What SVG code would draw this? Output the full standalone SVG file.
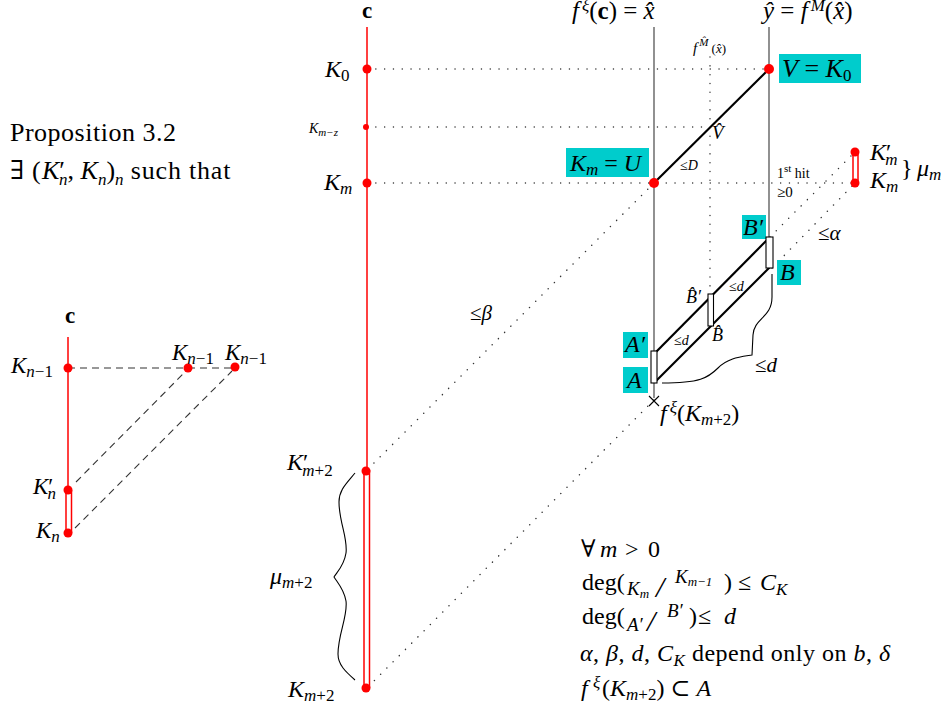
<svg xmlns="http://www.w3.org/2000/svg" width="947" height="710" viewBox="0 0 947 710">
<style>
text{font-family:"Liberation Serif","DejaVu Serif",serif;fill:#000}
.m{font-size:24px;font-style:italic}
.r{font-size:24px}
.sm{font-size:14px;font-style:italic}
.s{font-size:17px;font-style:normal}
.si{font-size:17px;font-style:italic}
.ss{font-size:11px;font-style:italic}
.ssn{font-size:11px;font-style:normal}
.b{font-weight:bold;font-style:normal}
.n{font-style:normal}
.red{stroke:#ff0000;stroke-width:1.5;fill:none}
.rdot{fill:#ff0000}
.dots{stroke:#333;stroke-width:1.4;stroke-dasharray:0.1 8.7;stroke-linecap:round;fill:none}
.dash{stroke:#333;stroke-width:1.1;stroke-dasharray:7 5;fill:none}
.ax{stroke:#555;stroke-width:1.3;fill:none}
.thick{stroke:#000;stroke-width:2.2;fill:none}
.box{fill:#fff;stroke:#000;stroke-width:1.1}
.cyan{fill:#00cccc}
.brace{stroke:#000;stroke-width:1.1;fill:none}
</style>

<!-- intro text -->
<g id="intro">
<text x="10" y="141" class="r" style="font-size:26px;letter-spacing:0.5px">Proposition 3.2</text>
<text x="10" y="179" class="r" style="font-size:26px">∃<tspan x="32">(</tspan><tspan class="m" style="font-size:26px" x="42">K</tspan><tspan class="n">′</tspan><tspan class="si" dx="-6" dy="6">n</tspan><tspan dy="-6">, </tspan><tspan class="m" style="font-size:26px">K</tspan><tspan class="si" dy="6">n</tspan><tspan dy="-6">)</tspan><tspan class="si" dy="6">n</tspan><tspan dy="-6" style="letter-spacing:0.8px"> such that</tspan></text>
</g>

<!-- connectors -->
<g id="connectors">
<line class="red" x1="367" y1="27" x2="367" y2="470"/>
<line class="red" x1="364" y1="470" x2="364" y2="688"/>
<line class="red" x1="369.5" y1="470" x2="369.5" y2="688"/>
<line class="dots" x1="367" y1="69" x2="769" y2="69"/>
<line class="dots" x1="367" y1="127" x2="710" y2="127"/>
<line class="dots" x1="367" y1="183" x2="855" y2="183"/>
<line class="ax" x1="654" y1="27" x2="654" y2="398"/>
<line class="ax" x1="769" y1="27" x2="769" y2="237"/>
<line class="dots" x1="710" y1="57" x2="710" y2="294"/>
<line class="dots" x1="654" y1="183" x2="367" y2="470"/>
<line class="dots" x1="654" y1="400" x2="367" y2="688"/>
<line class="dots" x1="770" y1="237" x2="855" y2="152"/>
<line class="dots" x1="772" y1="268" x2="855" y2="183"/>
<line class="thick" x1="654" y1="183" x2="769" y2="69"/>
<line class="thick" x1="655" y1="353" x2="769" y2="238"/>
<line class="thick" x1="655" y1="382" x2="770" y2="267"/>
<line class="red" x1="853" y1="152" x2="853" y2="183"/>
<line class="red" x1="858" y1="152" x2="858" y2="183"/>
<path class="brace" d="M355,473 C346,484 339,490 339,502 C339,522 348,538 346,553 C344,566 337,572 334,577 C337,582 344,589 346,601 C348,616 338,634 338,654 C338,665 346,672 355,680"/>
<path class="brace" d="M772,274 L772,297 C772,318 754,318 753,335 L752,355 C740,357 728,358 718,368 C708,378 700,383 662,383"/>
<path d="M649,396 L659,406 M659,396 L649,406" stroke="#000" stroke-width="1.1"/>
<line class="red" x1="68" y1="337" x2="68" y2="490"/>
<line class="red" x1="66" y1="490" x2="66" y2="533"/>
<line class="red" x1="71.5" y1="490" x2="71.5" y2="533"/>
<line class="dash" x1="68" y1="368" x2="235" y2="368"/>
<line class="dash" x1="76" y1="482" x2="184" y2="373"/>
<line class="dash" x1="75" y1="528" x2="232" y2="371"/>
</g>

<!-- main axis nodes -->
<g id="c-label"><text x="367" y="18" class="b" text-anchor="middle" style="font-size:23px">c</text></g>
<g id="K0"><circle class="rdot" cx="367" cy="69" r="4.5"/><text x="325" y="77" class="m">K<tspan class="s" dy="4">0</tspan></text></g>
<g id="Kmz"><circle class="rdot" cx="366" cy="127" r="3"/><text x="309" y="133" class="sm">K<tspan class="ss" dy="3">m−z</tspan></text></g>
<g id="Km-axis"><circle class="rdot" cx="367" cy="183" r="4.5"/><text x="324" y="190" class="m">K<tspan class="si" dy="4">m</tspan></text></g>
<g id="Kpm2"><circle class="rdot" cx="366" cy="471" r="4.5"/><text x="287" y="470" class="m">K<tspan class="n">′</tspan><tspan class="si" dx="-6" dy="6">m</tspan><tspan class="s">+2</tspan></text></g>
<g id="Km2"><circle class="rdot" cx="366" cy="688" r="4.5"/><text x="288" y="697" class="m">K<tspan class="si" dy="4">m</tspan><tspan class="s">+2</tspan></text></g>
<g id="mu-m2"><text x="270" y="584" class="m">μ<tspan class="si" dy="4">m</tspan><tspan class="s">+2</tspan></text></g>

<!-- top labels -->
<g id="fxi-label"><text x="572" y="19" class="m" style="font-size:25px">f<tspan class="si" dx="3" dy="-8">ξ</tspan><tspan class="n" dy="8">(</tspan><tspan class="b">c</tspan><tspan class="n">) = </tspan>x̂</text></g>
<g id="yhat-label"><text x="763" y="19" class="m" style="font-size:25px">ŷ<tspan class="n"> = </tspan>f<tspan class="si" dx="3" dy="-8">M</tspan><tspan class="n" dy="8">(</tspan>x̂<tspan class="n">)</tspan></text></g>
<g id="fMhat-label"><text x="693" y="53" class="sm" style="font-size:15px">f<tspan class="ss" dx="2" dy="-7">M̂</tspan><tspan class="ssn" style="font-size:13px" dy="7"> (</tspan><tspan class="ss" style="font-size:13px">x̂</tspan><tspan class="ssn" style="font-size:13px">)</tspan></text></g>

<!-- V and U -->
<g id="V"><rect class="cyan" x="779" y="54" width="82" height="29"/><circle class="rdot" cx="769" cy="69" r="5"/><text x="782" y="77" class="m" style="font-size:26px">V<tspan class="n"> = </tspan>K<tspan class="s" dy="4">0</tspan></text></g>
<g id="U"><rect class="cyan" x="566" y="148" width="83" height="29"/><circle class="rdot" cx="654" cy="183" r="5"/><text x="570" y="171" class="m">K<tspan class="si" dy="4">m</tspan><tspan class="n" dy="-4"> = </tspan>U</text></g>
<g id="Vhat"><text x="712" y="139" class="m" style="font-size:19px">V̂</text></g>
<g id="leD"><text x="680" y="170" class="sm"><tspan class="n">≤</tspan>D</text></g>
<g id="hit"><text x="777" y="178" style="font-size:14px">1<tspan class="ssn" dy="-6">st</tspan><tspan dy="6"> hit</tspan></text><text x="777" y="197" style="font-size:15px">≥0</text></g>
<g id="Kpm"><circle class="rdot" cx="855" cy="152" r="4.5"/><text x="870" y="160" class="m">K<tspan class="n">′</tspan><tspan class="si" dx="-6" dy="5">m</tspan></text></g>
<g id="Km"><circle class="rdot" cx="855" cy="183" r="4.5"/><text x="870" y="188" class="m">K<tspan class="si" dy="4">m</tspan></text></g>
<g id="mu-m"><text x="901" y="176" class="r">}</text><text x="917" y="176" class="m">μ<tspan class="si" dy="4">m</tspan></text></g>

<!-- A, B boxes -->
<g id="Aprime"><rect class="cyan" x="623" y="332" width="25" height="26"/><text x="625" y="352" class="m">A′</text></g>
<g id="A"><rect class="box" x="651" y="351" width="6" height="32"/><rect class="cyan" x="623" y="367" width="25" height="26"/><text x="627" y="388" class="m">A</text></g>
<g id="Bhat"><rect class="box" x="708" y="294" width="5.5" height="32"/><text x="686" y="303" class="m" style="font-size:18px">B̂′</text><text x="712" y="341" class="m" style="font-size:18px">B̂</text></g>
<g id="Bprime"><rect class="cyan" x="742" y="215" width="24" height="24"/><text x="743" y="235" class="m">B′</text></g>
<g id="B"><rect class="box" x="766" y="237" width="7" height="31"/><rect class="cyan" x="777" y="260" width="24" height="25"/><text x="780" y="280" class="m">B</text></g>
<g id="le-d1"><text x="674" y="345" class="sm"><tspan class="n">≤</tspan>d</text></g>
<g id="le-d2"><text x="729" y="291" class="sm"><tspan class="n">≤</tspan>d</text></g>
<g id="le-alpha"><text x="818" y="240" class="m" style="font-size:21px"><tspan class="n">≤</tspan>α</text></g>
<g id="le-d3"><text x="755" y="372" class="m" style="font-size:21px"><tspan class="n">≤</tspan>d</text></g>
<g id="le-beta"><text x="470" y="320" class="m" style="font-size:21px"><tspan class="n">≤</tspan>β</text></g>
<g id="fxiKm2"><text x="660" y="421" class="m">f<tspan class="si" dx="3" dy="-8">ξ</tspan><tspan class="n" dy="8">(</tspan>K<tspan class="si" dy="4">m</tspan><tspan class="s">+2</tspan><tspan class="n" dy="-4">)</tspan></text></g>

<!-- left diagram -->
<g id="left-c"><text x="70" y="323" class="b" text-anchor="middle" style="font-size:23px">c</text></g>
<g id="Kn1-a"><circle class="rdot" cx="68" cy="368" r="4.5"/><text x="11" y="373" class="m" style="font-size:23px">K<tspan class="si" dy="4">n</tspan><tspan class="s">−1</tspan></text></g>
<g id="Kn1-b"><circle class="rdot" cx="188" cy="368" r="4.5"/><text x="172" y="360" class="m" style="font-size:23px">K<tspan class="si" dy="4">n</tspan><tspan class="s">−1</tspan></text></g>
<g id="Kn1-c"><circle class="rdot" cx="235" cy="367" r="4.5"/><text x="225" y="360" class="m" style="font-size:23px">K<tspan class="si" dy="4">n</tspan><tspan class="s">−1</tspan></text></g>
<g id="Kpn"><circle class="rdot" cx="68" cy="490" r="4.5"/><text x="33" y="494" class="m" style="font-size:23px">K<tspan class="n">′</tspan><tspan class="si" dx="-6" dy="5">n</tspan></text></g>
<g id="Kn"><circle class="rdot" cx="68" cy="533" r="4.5"/><text x="36" y="538" class="m" style="font-size:23px">K<tspan class="si" dy="4">n</tspan></text></g>

<!-- bottom statements -->
<g id="statements">
<text x="581" y="557" class="r">∀<tspan class="m" x="600">m</tspan><tspan x="625">&gt;</tspan><tspan x="648">0</tspan></text>
<text x="582" y="590" class="r">deg(<tspan class="m" style="font-size:19px" x="627" y="595">K</tspan><tspan class="ss" style="font-size:13px" y="598">m</tspan><tspan x="656" y="597" class="m" style="font-size:30px">/</tspan><tspan class="m" style="font-size:19px" x="675" y="583">K</tspan><tspan class="ss" style="font-size:13px" y="586">m−1</tspan><tspan x="724" y="590">)</tspan><tspan x="738" y="590">≤</tspan><tspan class="m" x="760" y="590">C</tspan><tspan class="si" y="595">K</tspan></text>
<text x="582" y="624" class="r">deg(<tspan class="m" style="font-size:19px" x="627" y="631">A′</tspan><tspan x="647" y="631" class="m" style="font-size:30px">/</tspan><tspan class="m" style="font-size:19px" x="667" y="617">B′</tspan><tspan x="689" y="624">)</tspan><tspan x="698" y="624">≤</tspan><tspan class="m" x="724" y="624">d</tspan></text>
<text x="580" y="661" class="r" style="letter-spacing:0.5px"><tspan class="m">α</tspan>, <tspan class="m">β</tspan>, <tspan class="m">d</tspan>, <tspan class="m">C</tspan><tspan class="si" dy="5">K</tspan><tspan dy="-5"> depend only on </tspan><tspan class="m">b</tspan>, <tspan class="m">δ</tspan></text>
<text x="581" y="696" class="r"><tspan class="m">f</tspan><tspan class="si" x="593" y="688">ξ</tspan><tspan x="602" y="696">(</tspan><tspan class="m" x="610">K</tspan><tspan class="si" y="700">m</tspan><tspan class="s">+2</tspan><tspan y="696">) ⊂ </tspan><tspan class="m">A</tspan></text>
</g>
</svg>
